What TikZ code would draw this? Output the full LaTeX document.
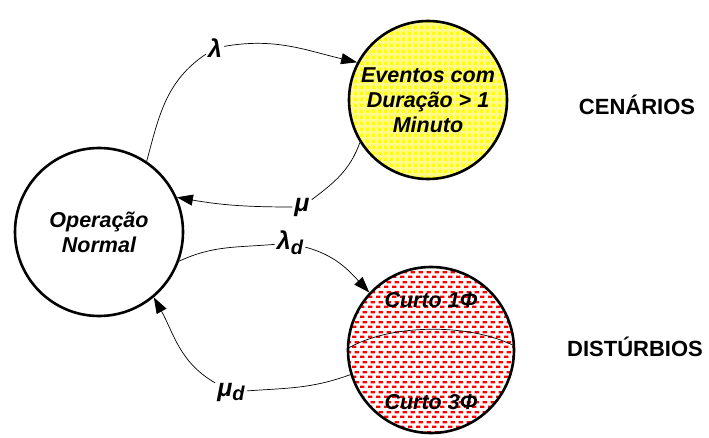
\documentclass[tikz,border=0pt]{standalone}
\usepackage{fontspec}
\setmainfont{Liberation Sans}
\usetikzlibrary{arrows.meta,patterns}
\tikzset{>={Triangle[length=16pt,width=11pt]}}
\pgfdeclarepatternformonly{yellowdots}{\pgfqpoint{0pt}{0pt}}{\pgfqpoint{6pt}{6pt}}{\pgfqpoint{6pt}{6pt}}{\pgfpathrectangle{\pgfqpoint{0pt}{0pt}}{\pgfqpoint{3.8pt}{3.8pt}}\pgfusepath{fill}}
\pgfdeclarepatternformonly{redbricks}{\pgfqpoint{0pt}{0pt}}{\pgfqpoint{8pt}{10pt}}{\pgfqpoint{8pt}{10pt}}{\pgfpathrectangle{\pgfqpoint{0pt}{0pt}}{\pgfqpoint{5pt}{2.6pt}}\pgfpathrectangle{\pgfqpoint{3pt}{5pt}}{\pgfqpoint{5pt}{2.6pt}}\pgfusepath{fill}}

\begin{document}
\begin{tikzpicture}[x=1pt,y=1pt,
  state/.style={circle,draw,line width=2.6pt,inner sep=0pt,align=center,
    font=\bfseries\itshape\fontsize{21.5}{25}\selectfont},
  rate/.style={inner sep=2pt,font=\bfseries\itshape\fontsize{25}{26}\selectfont},
  trans/.style={line width=0.7pt},
  title/.style={font=\bfseries\fontsize{22}{24}\selectfont}]
\useasboundingbox (0,0) rectangle (709,437);

% estados
\node[state,minimum size=168pt] (op) at (99,205) {Operação\\Normal};
\node[state,minimum size=158pt,preaction={fill=yellow!45},
  pattern=yellowdots,pattern color=yellow] (ev) at (428,337)
  {Eventos com\\Duração > 1\\Minuto};
\node[state,minimum size=166pt,pattern=redbricks,pattern color=red] (dist) at (431,87) {};
\begin{scope}
\clip (431,87) circle (82pt);
\draw[trans] (345,87) .. controls (390,115) and (480,115) .. (525,85);
\end{scope}
\node[state,draw=none] (c1) at (431,137) {Curto 1Φ};
\node[state,draw=none] (c3) at (431,35) {Curto 3Φ};

% titulos
\node[title] (cen) at (637,332) {CENÁRIOS};
\node[title] (dis) at (635,90) {DISTÚRBIOS};

% taxas
\node[rate] (lam) at (215,389) {λ};
\node[rate] (mu) at (302,230) {μ};
\node[rate] (lamd) at (290,194) {λ\raisebox{-0.35ex}{\fontsize{20}{20}\selectfont d}};
\node[rate] (mud) at (231,45) {μ\raisebox{-0.35ex}{\fontsize{20}{20}\selectfont d}};

% transicoes
\draw[trans] (op.56) to[out=75,in=214] (lam);
\draw[trans,->] (lam) to[out=10,in=167] (ev.152);
\draw[trans] (ev.212) to[out=250,in=37] (mu);
\draw[trans,->] (mu) to[out=180,in=-10] (op.24);
\draw[trans] (op.-20) to[out=25,in=185] (lamd);
\draw[trans,->] (lamd) to[out=-15,in=133] (dist.137);
\draw[trans] (dist.197) to[out=200,in=4] (mud);
\draw[trans,->] (mud) to[out=150,in=299] (op.-50);
\end{tikzpicture}
\end{document}
